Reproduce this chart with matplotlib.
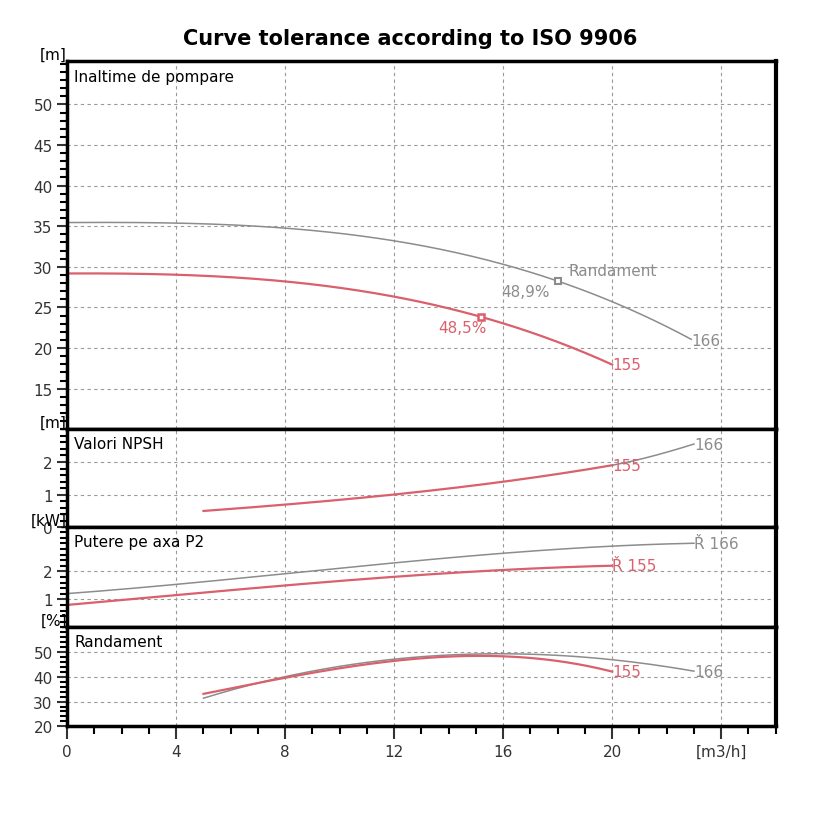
import numpy as np
import matplotlib.pyplot as plt
from matplotlib.ticker import MultipleLocator

GRAY = "#8c8c8c"
RED = "#d9606c"

# head curves
q_h166 = [0, 4, 8, 12, 16, 18, 20, 22, 22.9]
h166 = [35.4, 35.5, 34.8, 33.0, 30.4, 28.2, 25.8, 22.8, 20.9]
q_h155 = [0, 4, 8, 12, 15.2, 18, 20]
h155 = [29.2, 29.0, 28.2, 26.4, 23.8, 20.7, 18.0]

# NPSH
q_n166 = [20, 21, 22, 23]
n166 = [1.9, 2.08, 2.3, 2.55]
q_n155 = [5, 8, 12, 16, 20]
n155 = [0.5, 0.7, 1.0, 1.4, 1.9]

# power P2
q_p166 = [0, 4, 8, 12, 16, 20, 23]
p166 = [1.2, 1.55, 1.9, 2.3, 2.65, 2.9, 3.0]
q_p155 = [0, 4, 8, 12, 16, 20]
p155 = [0.8, 1.15, 1.5, 1.8, 2.05, 2.2]

# efficiency
q_e166 = [5, 8, 12, 16, 18, 20, 23]
e166 = [31, 41, 46.5, 48.9, 48.9, 47.5, 42]
q_e155 = [5, 8, 12, 16, 18, 20]
e155 = [33, 40, 46, 48.5, 46.5, 42]

bep166 = (18, 28.2)
bep155 = (15.2, 23.8)


def smooth(x, y):
    xs = np.linspace(x[0], x[-1], 200)
    deg = min(3, len(x) - 1)
    return xs, np.polyval(np.polyfit(x, y, deg), xs)


fig = plt.figure(figsize=(8.2, 8.2), dpi=100)
gs = fig.add_gridspec(4, 1, height_ratios=[368, 98, 100, 99], hspace=0,
                      left=0.082, right=0.946, top=0.924, bottom=0.113)
axes = [fig.add_subplot(gs[i]) for i in range(4)]

panels = [
    (q_h166, h166, q_h155, h155, (10, 55.3), 5, range(15, 55, 5), "[m]", "Inaltime de pompare"),
    (q_n166, n166, q_n155, n155, (0, 3), 1, range(0, 3), "[m]", "Valori NPSH"),
    (q_p166, p166, q_p155, p155, (0, 3.57), 1, range(1, 3), "[kW]", "Putere pe axa P2"),
    (q_e166, e166, q_e155, e155, (20, 60), 10, range(20, 60, 10), "[%]", "Randament"),
]

for ax, (xa, ya, xb, yb, ylim, step, ticks, unit, name) in zip(axes, panels):
    xs, ys = smooth(xa, ya)
    ax.plot(xs, ys, color=GRAY, lw=1.1)
    xs, ys = smooth(xb, yb)
    ax.plot(xs, ys, color=RED, lw=1.6)
    ax.set_xlim(0, 26)
    ax.set_ylim(*ylim)
    ax.set_yticks(list(ticks))
    ax.yaxis.set_minor_locator(MultipleLocator(step / 5))
    ax.xaxis.set_major_locator(MultipleLocator(4))
    ax.xaxis.set_minor_locator(MultipleLocator(1))
    ax.grid(True, which="major", ls=(0, (3, 3)), color="#999999", lw=0.8)
    ax.tick_params(axis="y", which="major", length=7, width=1.5, labelsize=11, colors="#333333")
    ax.tick_params(axis="y", which="minor", length=5, width=1.5)
    ax.tick_params(axis="x", which="both", length=0, labelbottom=False)
    for s in ax.spines.values():
        s.set_linewidth(2.5)
    ax.spines["right"].set_linewidth(3)
    ax.text(0.01, 0.98 if ax is axes[0] else 0.93, name, transform=ax.transAxes,
            va="top", fontsize=11)
    ax.text(-0.01, ylim[1], unit, ha="right", va="bottom", fontsize=11, clip_on=False)

ax = axes[0]
ax.plot(*bep166, marker="s", ms=5, mfc="white", mec=GRAY, mew=1.5)
ax.plot(*bep155, marker="s", ms=5, mfc="white", mec=RED, mew=1.8)
ax.text(bep166[0] + 0.4, bep166[1] + 0.8, "Randament", color=GRAY, fontsize=11)
ax.text(bep166[0] - 0.3, bep166[1] - 0.3, "48,9%", color=GRAY, fontsize=11, ha="right", va="top")
ax.text(bep155[0] + 0.2, bep155[1] - 0.4, "48,5%", color=RED, fontsize=11, ha="right", va="top")
ax.text(q_h166[-1], h166[-1], "166", color=GRAY, fontsize=11, va="center")
ax.text(q_h155[-1], h155[-1], "155", color=RED, fontsize=11, va="center")

axes[1].text(q_n166[-1], n166[-1], "166", color=GRAY, fontsize=11, va="center")
axes[1].text(q_n155[-1], n155[-1], "155", color=RED, fontsize=11, va="center")
axes[2].text(q_p166[-1], p166[-1], "Ř 166", color=GRAY, fontsize=11, va="center")
axes[2].text(q_p155[-1], p155[-1], "Ř 155", color=RED, fontsize=11, va="center")
axes[3].text(q_e166[-1], e166[-1], "166", color=GRAY, fontsize=11, va="center")
axes[3].text(q_e155[-1], e155[-1], "155", color=RED, fontsize=11, va="center")

axb = axes[3]
axb.tick_params(axis="x", which="major", length=9, width=1.5, labelbottom=True, labelsize=11,
                colors="#333333")
axb.tick_params(axis="x", which="minor", length=6, width=1.5)
axb.set_xticks(range(0, 25, 4))
axb.set_xticklabels(["0", "4", "8", "12", "16", "20", "[m3/h]"])

fig.suptitle("Curve tolerance according to ISO 9906", fontsize=15, fontweight="bold", y=0.965)
fig.savefig("out.png", dpi=100)
